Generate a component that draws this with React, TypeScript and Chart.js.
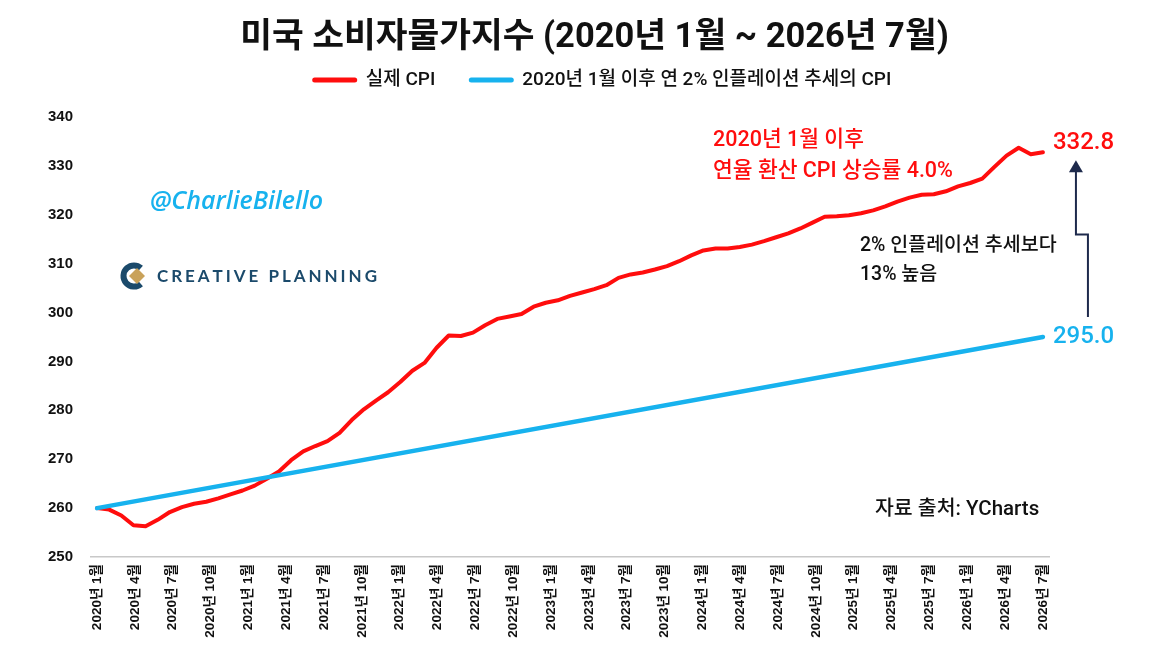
import { useEffect, useRef } from "react";
import { Chart, registerables } from "chart.js";

Chart.register(...registerables);

// ---------- data ----------
const YEARS = [2020, 2021, 2022, 2023, 2024, 2025, 2026];
const MONTHS = [1, 2, 3, 4, 5, 6, 7, 8, 9, 10, 11, 12];
const LAST_MONTH_2026 = 7;

const categories: string[] = YEARS.flatMap((y) =>
  MONTHS.filter((m) => y < 2026 || m <= LAST_MONTH_2026).map((m) => `${y}년 ${m}월`)
);

// tick labels as printed under the axis (evenly spaced in the reference)
const tickLabels = [
  "2020년 1월", "2020년 4월", "2020년 7월", "2020년 10월",
  "2021년 1월", "2021년 4월", "2021년 7월", "2021년 10월",
  "2022년 1월", "2022년 4월", "2022년 7월", "2022년 10월",
  "2023년 1월", "2023년 4월", "2023년 7월", "2023년 10월",
  "2024년 1월", "2024년 4월", "2024년 7월", "2024년 10월",
  "2025년 1월", "2025년 4월", "2025년 7월",
  "2026년 1월", "2026년 4월", "2026년 7월",
];

const actualCpi = [
  260.0, 259.7, 258.5, 256.5, 256.3, 257.6, 259.2, 260.2, 260.9, 261.3, 262.0, 262.8,
  263.6, 264.6, 266.0, 267.5, 269.8, 271.6, 272.7, 273.7, 275.4, 278.0, 280.2, 282.0,
  283.7, 285.8, 288.1, 289.7, 292.8, 295.3, 295.2, 295.9, 297.4, 298.7, 299.2, 299.7,
  301.2, 302.0, 302.5, 303.4, 304.1, 304.8, 305.6, 307.1, 307.8, 308.2, 308.8, 309.5,
  310.5, 311.7, 312.7, 313.1, 313.1, 313.4, 313.9, 314.6, 315.4, 316.2, 317.2, 318.4,
  319.6, 319.7, 319.9, 320.3, 320.9, 321.7, 322.7, 323.5, 324.1, 324.2, 324.8, 325.8,
  326.5, 327.4, 329.8, 332.1, 333.7, 332.4, 332.8,
];

const trendStart = 260.0;
const trendEnd = 295.0;

const yMin = 250;
const yMax = 340;
const yStep = 10;

// ---------- text ----------
const TITLE = "미국 소비자물가지수 (2020년 1월 ~ 2026년 7월)";
const LEGEND_ACTUAL = "실제 CPI";
const LEGEND_TREND = "2020년 1월 이후 연 2% 인플레이션 추세의 CPI";
const NOTE_RED = ["2020년 1월 이후", "연율 환산 CPI 상승률 4.0%"];
const NOTE_GAP = ["2% 인플레이션 추세보다", "13% 높음"];
const SOURCE = "자료 출처: YCharts";
const HANDLE = "@CharlieBilello";
const BRAND = "CREATIVE PLANNING";

// ---------- style ----------
const FONT = "Roboto, 'Noto Sans CJK KR', sans-serif";
const AXIS_FONT = "'Liberation Sans', Arial, 'Noto Sans CJK KR', sans-serif";
const RED = "#ff0d0d";
const BLUE = "#17b2ee";
const NAVY = "#1e2a4c";
const BRAND_COLOR = "#1b4a6b";
const GOLD = "#c9a25a";
const TEXT = "#111";

const overlayPlugin = {
  id: "overlay",
  afterDraw(chart: any) {
    const { ctx, scales } = chart;
    const xs = scales.x;
    const ys = scales.y;
    const lastIdx = categories.length - 1;
    const lastX = xs.getPixelForValue(lastIdx);
    const yRed = ys.getPixelForValue(actualCpi[lastIdx]);
    const yBlue = ys.getPixelForValue(trendEnd);

    ctx.save();
    ctx.textBaseline = "middle";
    ctx.textAlign = "left";

    // legend
    ctx.font = `500 19px ${FONT}`;
    const w1 = ctx.measureText(LEGEND_ACTUAL).width;
    const w2 = ctx.measureText(LEGEND_TREND).width;
    const sample = 40;
    const gapText = 11;
    const gapItem = 36;
    const total = sample + gapText + w1 + gapItem + sample + gapText + w2;
    let lx = 603 - total / 2;
    const ly = 80;
    ctx.lineCap = "round";
    ctx.lineWidth = 5;
    ctx.strokeStyle = RED;
    ctx.beginPath();
    ctx.moveTo(lx, ly);
    ctx.lineTo(lx + sample, ly);
    ctx.stroke();
    ctx.fillStyle = TEXT;
    ctx.fillText(LEGEND_ACTUAL, lx + sample + gapText, ly);
    lx += sample + gapText + w1 + gapItem;
    ctx.strokeStyle = BLUE;
    ctx.beginPath();
    ctx.moveTo(lx, ly);
    ctx.lineTo(lx + sample, ly);
    ctx.stroke();
    ctx.fillText(LEGEND_TREND, lx + sample + gapText, ly);

    // handle
    ctx.fillStyle = BLUE;
    ctx.font = `italic 600 25px 'Open Sans', sans-serif`;
    ctx.fillText(HANDLE, 150, 202);

    // logo icon
    ctx.strokeStyle = BRAND_COLOR;
    ctx.lineWidth = 6;
    ctx.lineCap = "butt";
    ctx.beginPath();
    ctx.arc(134, 276, 10.5, Math.PI * 0.27, Math.PI * 1.73);
    ctx.stroke();
    ctx.fillStyle = GOLD;
    ctx.beginPath();
    ctx.moveTo(137, 268);
    ctx.lineTo(145, 276);
    ctx.lineTo(137, 284);
    ctx.lineTo(129, 276);
    ctx.closePath();
    ctx.fill();

    // logo text, letter-spaced
    ctx.fillStyle = BRAND_COLOR;
    ctx.font = `bold 17px Lato, sans-serif`;
    const chars = BRAND.split("");
    const plain = chars.reduce((s, c) => s + ctx.measureText(c).width, 0);
    const spacing = (220 - plain) / (chars.length - 1);
    let bx = 157;
    chars.forEach((c) => {
      ctx.fillText(c, bx, 277);
      bx += ctx.measureText(c).width + spacing;
    });

    // red note
    ctx.fillStyle = RED;
    ctx.font = `500 21.5px ${FONT}`;
    ctx.fillText(NOTE_RED[0], 713, 141);
    ctx.fillText(NOTE_RED[1], 713, 172);

    // end value labels
    ctx.font = `500 24px ${FONT}`;
    ctx.fillStyle = RED;
    ctx.fillText(actualCpi[lastIdx].toFixed(1), lastX + 10, yRed - 9);
    ctx.fillStyle = BLUE;
    ctx.fillText(trendEnd.toFixed(1), lastX + 10, yBlue);

    // arrow
    const ax1 = lastX + 45;
    const ax2 = lastX + 33;
    const yBottom = yBlue - 20;
    const yTip = yRed + 8;
    const yJog = (yBottom + yTip) / 2 - 4;
    ctx.strokeStyle = NAVY;
    ctx.fillStyle = NAVY;
    ctx.lineWidth = 2;
    ctx.lineCap = "butt";
    ctx.beginPath();
    ctx.moveTo(ax1, yBottom);
    ctx.lineTo(ax1, yJog);
    ctx.lineTo(ax2, yJog);
    ctx.lineTo(ax2, yTip + 11);
    ctx.stroke();
    ctx.beginPath();
    ctx.moveTo(ax2, yTip);
    ctx.lineTo(ax2 + 7, yTip + 12);
    ctx.lineTo(ax2 - 7, yTip + 12);
    ctx.closePath();
    ctx.fill();

    // gap note
    ctx.fillStyle = TEXT;
    ctx.font = `500 19.5px ${FONT}`;
    ctx.fillText(NOTE_GAP[0], 860, 246);
    ctx.fillText(NOTE_GAP[1], 860, 275);

    // source
    ctx.font = `500 20.5px ${FONT}`;
    ctx.fillText(SOURCE, 875, 510);

    ctx.restore();
  },
};

export default function App() {
  const canvasRef = useRef<HTMLCanvasElement | null>(null);

  useEffect(() => {
    document.body.style.margin = "0";
    const canvas = canvasRef.current;
    if (!canvas) return;
    const n = categories.length;
    const chart = new Chart(canvas, {
      type: "line",
      data: {
        labels: categories,
        datasets: [
          {
            label: LEGEND_ACTUAL,
            data: actualCpi,
            borderColor: RED,
            backgroundColor: RED,
            borderWidth: 4,
            pointRadius: 0,
            tension: 0,
            borderJoinStyle: "round",
            borderCapStyle: "round",
            order: 1,
            xAxisID: "x",
            yAxisID: "y",
          },
          {
            label: LEGEND_TREND,
            data: [
              { x: categories[0], y: trendStart },
              { x: categories[n - 1], y: trendEnd },
            ],
            borderColor: BLUE,
            backgroundColor: BLUE,
            borderWidth: 4.5,
            pointRadius: 0,
            tension: 0,
            borderCapStyle: "round",
            order: 0,
            xAxisID: "x",
            yAxisID: "y",
          },
        ],
      },
      options: {
        animation: false,
        responsive: false,
        layout: { padding: { left: 30, right: 0, top: 0, bottom: 0 } },
        plugins: {
          legend: { display: false },
          tooltip: { enabled: false },
          title: {
            display: true,
            text: TITLE,
            color: TEXT,
            font: { family: FONT, size: 34.5, weight: "bold" },
            padding: { top: 17.3, bottom: 58.3 },
          },
        },
        scales: {
          x: {
            type: "category",
            offset: true,
            display: false,
          },
          xLabels: {
            type: "linear",
            axis: "x",
            position: "bottom",
            bounds: "data",
            min: -0.5,
            max: n - 0.5,
            grid: { display: false, drawTicks: false },
            border: { display: true, color: "#c8c8c8", width: 1.5 },
            afterBuildTicks(scale: any) {
              scale.ticks = tickLabels.map((_, i) => ({
                value: (i * (n - 1)) / (tickLabels.length - 1),
              }));
            },
            ticks: {
              autoSkip: false,
              minRotation: 90,
              maxRotation: 90,
              padding: 7,
              color: TEXT,
              font: { family: AXIS_FONT, size: 13.5, weight: "bold" },
              callback(_value: any, index: number) {
                return tickLabels[index];
              },
            },
            afterFit(scale: any) {
              scale.height = 104;
            },
          },
          y: {
            type: "linear",
            position: "left",
            min: yMin,
            max: yMax,
            grid: { display: false, drawTicks: false },
            border: { display: false },
            ticks: {
              stepSize: yStep,
              padding: 18,
              color: TEXT,
              font: { family: AXIS_FONT, size: 15, weight: "bold" },
            },
            afterFit(scale: any) {
              scale.width = 61;
            },
          },
          rightPad: {
            type: "linear",
            position: "right",
            display: true,
            grid: { display: false, drawTicks: false },
            border: { display: false },
            ticks: { display: false },
            afterFit(scale: any) {
              scale.width = 110;
            },
          },
        },
      },
      plugins: [overlayPlugin],
    } as any);
    return () => chart.destroy();
  }, []);

  return (
    <div style={{ position: "fixed", left: 0, top: 0, width: 1159, height: 661, background: "#fff" }}>
      <canvas ref={canvasRef} width={1159} height={661} />
    </div>
  );
}
